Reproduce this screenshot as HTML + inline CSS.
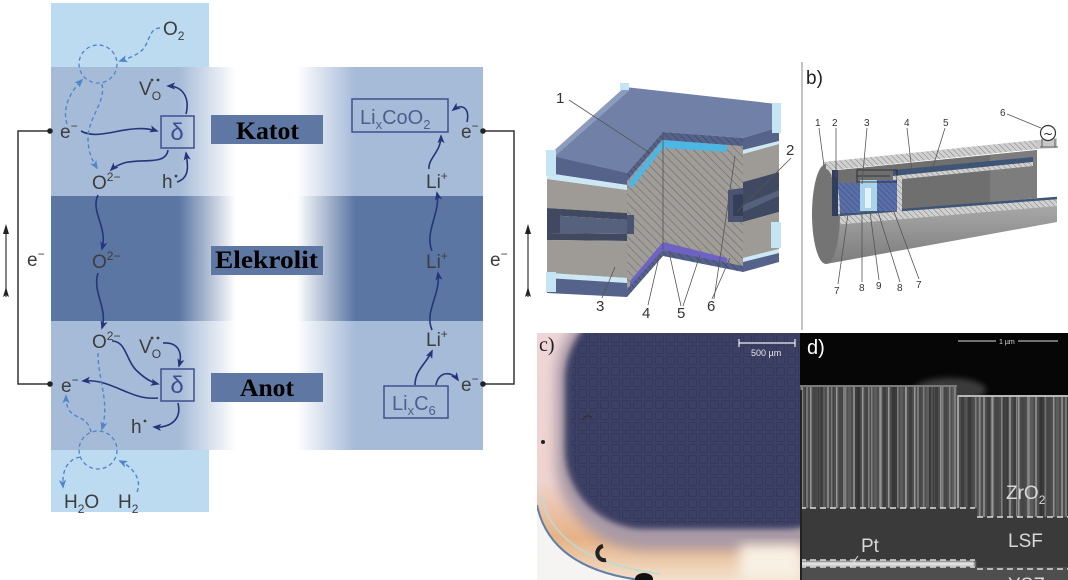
<!DOCTYPE html>
<html><head><meta charset="utf-8">
<style>
html,body{margin:0;padding:0;background:#fff;width:1068px;height:580px;overflow:hidden;}
svg{display:block;}
.t{font-family:"Liberation Sans",sans-serif;font-size:19px;fill:#3d3d3d;}
.s{stroke:#27347a;stroke-width:1.6;fill:none;marker-end:url(#ah);}
.d{stroke:#4f86c9;stroke-width:1.4;fill:none;stroke-dasharray:4 3;marker-end:url(#ahd);}
.lab{font-family:"Liberation Serif",serif;font-weight:bold;font-size:25px;fill:#000;}
.n{font-family:"Liberation Sans",sans-serif;font-size:15px;fill:#333;}
.m{font-family:"Liberation Sans",sans-serif;font-size:10px;fill:#333;}
.ln{stroke:#555;stroke-width:0.8;fill:none;}
</style></head><body>
<svg width="1068" height="580" viewBox="0 0 1068 580" xmlns="http://www.w3.org/2000/svg">
<defs>
 <linearGradient id="gk" gradientUnits="userSpaceOnUse" x1="51" y1="0" x2="483" y2="0">
  <stop offset="0" stop-color="#a6bbd8"/><stop offset="0.296" stop-color="#a6bbd8"/>
  <stop offset="0.428" stop-color="#ffffff"/><stop offset="0.569" stop-color="#ffffff"/>
  <stop offset="0.704" stop-color="#a6bbd8"/><stop offset="1" stop-color="#a6bbd8"/>
 </linearGradient>
 <linearGradient id="ge" gradientUnits="userSpaceOnUse" x1="51" y1="0" x2="483" y2="0">
  <stop offset="0" stop-color="#5b76a3"/><stop offset="0.296" stop-color="#5b76a3"/>
  <stop offset="0.428" stop-color="#ffffff"/><stop offset="0.569" stop-color="#ffffff"/>
  <stop offset="0.704" stop-color="#5b76a3"/><stop offset="1" stop-color="#5b76a3"/>
 </linearGradient>
 <marker id="ah" markerUnits="userSpaceOnUse" markerWidth="9" markerHeight="9" viewBox="0 0 10 10" refX="8" refY="5" orient="auto"><path d="M0,1 L10,5 L0,9 L2.5,5 z" fill="#27347a"/></marker>
 <marker id="ahd" markerUnits="userSpaceOnUse" markerWidth="9" markerHeight="9" viewBox="0 0 10 10" refX="8" refY="5" orient="auto"><path d="M0,1 L10,5 L0,9 L2.5,5 z" fill="#4f86c9"/></marker>
 <pattern id="hatch" width="6" height="6" patternUnits="userSpaceOnUse" patternTransform="rotate(-45)"><rect width="6" height="6" fill="#a09d99"/><line x1="0" y1="0" x2="0" y2="6" stroke="#6c6c6c" stroke-width="1.2"/></pattern>
 <pattern id="hatchd" width="5" height="5" patternUnits="userSpaceOnUse" patternTransform="rotate(-45)"><rect width="5" height="5" fill="#55628a"/><line x1="0" y1="0" x2="0" y2="5" stroke="#3a4566" stroke-width="1.2"/></pattern>
 <pattern id="hatchl" width="4" height="4" patternUnits="userSpaceOnUse" patternTransform="rotate(-45)"><rect width="4" height="4" fill="#d0d0d0"/><line x1="0" y1="0" x2="0" y2="4" stroke="#808080" stroke-width="1"/></pattern>
 <pattern id="hatchb" width="4" height="4" patternUnits="userSpaceOnUse" patternTransform="rotate(-45)"><rect width="4" height="4" fill="#5a6ea8"/><line x1="0" y1="0" x2="0" y2="4" stroke="#3b4b80" stroke-width="1"/></pattern>
 <pattern id="grid" width="11" height="11" patternUnits="userSpaceOnUse" x="566" y="333"><rect x="1.5" y="1.5" width="8" height="8" rx="1" fill="none" stroke="#2c2f50" stroke-width="1" opacity="0.5"/></pattern>
 <pattern id="cols" width="26" height="20" patternUnits="userSpaceOnUse" x="800" y="0">
  <rect width="26" height="20" fill="#4e4e4e"/>
  <rect x="1" width="2" height="20" fill="#858585"/>
  <rect x="5" width="3" height="20" fill="#3e3e3e"/>
  <rect x="10" width="1.5" height="20" fill="#959595"/>
  <rect x="13" width="4" height="20" fill="#464646"/>
  <rect x="19" width="1.5" height="20" fill="#7e7e7e"/>
  <rect x="22" width="3" height="20" fill="#5c5c5c"/>
 </pattern>
 <pattern id="cols2" width="37" height="20" patternUnits="userSpaceOnUse" x="803" y="0">
  <rect x="3" width="2" height="20" fill="#9a9a9a"/>
  <rect x="15" width="5" height="20" fill="#2e2e2e"/>
  <rect x="28" width="1.5" height="20" fill="#a0a0a0"/>
 </pattern>
 <linearGradient id="halo" x1="0" y1="0" x2="0" y2="1">
  <stop offset="0" stop-color="#eed6d8"/><stop offset="0.6" stop-color="#efd3cf"/><stop offset="0.83" stop-color="#e6b285"/><stop offset="1" stop-color="#f2e0cc"/>
 </linearGradient>
 <linearGradient id="cylb" x1="0" y1="0" x2="0" y2="1">
  <stop offset="0" stop-color="#a8a8a8"/><stop offset="1" stop-color="#7c7c7c"/>
 </linearGradient>
 <filter id="bl6" x="-20%" y="-20%" width="140%" height="140%"><feGaussianBlur stdDeviation="6"/></filter>
 <filter id="bl3" x="-20%" y="-20%" width="140%" height="140%"><feGaussianBlur stdDeviation="3"/></filter>
 <filter id="bl1"><feGaussianBlur stdDeviation="1"/></filter>
 <clipPath id="cc"><rect x="537" y="333" width="265" height="247"/></clipPath>
 <clipPath id="cd"><rect x="800" y="333" width="268" height="247"/></clipPath>
</defs>

<!-- ============ LEFT DIAGRAM ============ -->
<rect x="51" y="3" width="158" height="509" fill="#bcdaf0"/>
<rect x="51" y="67" width="432" height="129" fill="url(#gk)"/>
<rect x="51" y="196" width="432" height="125" fill="url(#ge)"/>
<rect x="51" y="321" width="432" height="129" fill="url(#gk)"/>

<rect x="211" y="115" width="112" height="29" fill="#5f78a3"/>
<rect x="211" y="246" width="112" height="29" fill="#5f78a3"/>
<rect x="211" y="373" width="112" height="29" fill="#5f78a3"/>
<text class="lab" x="236" y="139" textLength="63" lengthAdjust="spacingAndGlyphs">Katot</text>
<text class="lab" x="215" y="268" textLength="103" lengthAdjust="spacingAndGlyphs">Elekrolit</text>
<text class="lab" x="240" y="396" textLength="54" lengthAdjust="spacingAndGlyphs">Anot</text>

<!-- circuit -->
<path d="M50 131 H18 V384 H50" stroke="#333" stroke-width="1.5" fill="none"/>
<path d="M483 131 H514 V384 H483" stroke="#333" stroke-width="1.5" fill="none"/>
<circle cx="50" cy="131" r="2.8" fill="#222"/><circle cx="50" cy="384" r="2.8" fill="#222"/>
<circle cx="483" cy="131" r="2.8" fill="#222"/><circle cx="483" cy="384" r="2.8" fill="#222"/>
<line x1="6" y1="297" x2="6" y2="230" stroke="#333" stroke-width="1.2"/>
<path d="M6 224 L3 234 L9 234 Z" fill="#222"/><path d="M6 287 L3 297 L6 295 L9 297 Z" fill="#222"/>
<line x1="528" y1="297" x2="528" y2="230" stroke="#333" stroke-width="1.2"/>
<path d="M528 224 L525 234 L531 234 Z" fill="#222"/><path d="M528 287 L525 297 L528 295 L531 297 Z" fill="#222"/>
<text class="t" x="27" y="266">e<tspan font-size="12" dy="-8">−</tspan></text>
<text class="t" x="490" y="266">e<tspan font-size="12" dy="-8">−</tspan></text>

<!-- dashed circles -->
<circle cx="98" cy="64" r="19" fill="none" stroke="#4f86c9" stroke-width="1.3" stroke-dasharray="4 3"/>
<circle cx="98" cy="450" r="19" fill="none" stroke="#4f86c9" stroke-width="1.3" stroke-dasharray="4 3"/>

<!-- boxes -->
<rect x="161" y="116" width="33" height="32" fill="none" stroke="#3d4f8f" stroke-width="1.5"/>
<rect x="161" y="369" width="33" height="32" fill="none" stroke="#3d4f8f" stroke-width="1.5"/>
<rect x="352" y="99" width="96" height="33" fill="none" stroke="#3d4f8f" stroke-width="1.5"/>
<rect x="384" y="386" width="64" height="32" fill="none" stroke="#3d4f8f" stroke-width="1.5"/>
<text x="177" y="140" text-anchor="middle" font-family="Liberation Sans, sans-serif" font-size="24" fill="#3d4f8f">δ</text>
<text x="177" y="393" text-anchor="middle" font-family="Liberation Sans, sans-serif" font-size="24" fill="#3d4f8f">δ</text>
<text x="360" y="124" font-family="Liberation Sans, sans-serif" font-size="20" fill="#4d5f90">Li<tspan font-size="13" dy="5">x</tspan><tspan dy="-5">CoO</tspan><tspan font-size="13" dy="5">2</tspan></text>
<text x="392" y="410" font-family="Liberation Sans, sans-serif" font-size="20" fill="#4d5f90">Li<tspan font-size="13" dy="5">x</tspan><tspan dy="-5">C</tspan><tspan font-size="13" dy="5">6</tspan></text>

<!-- Katot texts -->
<text class="t" x="163" y="35">O<tspan font-size="12" dy="5">2</tspan></text>
<text class="t" x="139" y="95">V<tspan font-size="12" dy="5">O</tspan></text>
<circle cx="152" cy="80" r="1.4" fill="#3d3d3d"/><circle cx="158" cy="80" r="1.4" fill="#3d3d3d"/>
<text class="t" x="60" y="138">e<tspan font-size="12" dy="-8">−</tspan></text>
<text class="t" x="92" y="189">O<tspan font-size="12" dy="-8">2−</tspan></text>
<text class="t" x="162" y="188">h</text><circle cx="176" cy="176" r="1.4" fill="#3d3d3d"/>
<text class="t" x="461" y="138">e<tspan font-size="12" dy="-8">−</tspan></text>
<text class="t" x="426" y="188">Li<tspan font-size="12" dy="-8">+</tspan></text>
<!-- Electrolyte texts -->
<text class="t" x="92" y="268">O<tspan font-size="12" dy="-8">2−</tspan></text>
<text class="t" x="426" y="268">Li<tspan font-size="12" dy="-8">+</tspan></text>
<!-- Anot texts -->
<text class="t" x="92" y="348">O<tspan font-size="12" dy="-8">2−</tspan></text>
<text class="t" x="139" y="353">V<tspan font-size="12" dy="5">O</tspan></text>
<circle cx="152" cy="338" r="1.4" fill="#3d3d3d"/><circle cx="158" cy="338" r="1.4" fill="#3d3d3d"/>
<text class="t" x="61" y="392">e<tspan font-size="12" dy="-8">−</tspan></text>
<text class="t" x="131" y="433">h</text><circle cx="145" cy="421" r="1.4" fill="#3d3d3d"/>
<text class="t" x="64" y="508">H<tspan font-size="12" dy="5">2</tspan><tspan dy="-5">O</tspan></text>
<text class="t" x="118" y="508">H<tspan font-size="12" dy="5">2</tspan></text>
<text class="t" x="426" y="346">Li<tspan font-size="12" dy="-8">+</tspan></text>
<text class="t" x="461" y="391">e<tspan font-size="12" dy="-8">−</tspan></text>

<!-- connectors Katot -->
<path class="s" d="M81 131 C100 142 128 122 157 131"/>
<path class="s" d="M186 114 C190 98 183 86 168 86"/>
<path class="s" d="M168 150 C166 166 140 158 124 163 C118 165 114 167 111 170"/>
<path class="s" d="M177 182 C190 178 188 165 186 153"/>
<path class="s" d="M467 122 C470 108 462 103 453 110"/>
<path class="s" d="M429 169 C428 158 441 152 441 136"/>
<path class="d" d="M160 28 C148 28 150 45 140 52 C133 57 126 59 120 61"/>
<path class="d" d="M67 124 C62 108 70 92 82 80"/>
<path class="d" d="M102 84 C106 102 88 118 88 138 C88 152 92 160 97 168"/>
<!-- electrolyte -->
<path class="s" d="M98 195 C90 212 108 226 102 249"/>
<path class="s" d="M98 273 C92 292 108 308 102 328"/>
<path class="s" d="M432 330 C424 312 441 294 438 273"/>
<path class="s" d="M432 251 C424 232 441 212 437 193"/>
<!-- Anot -->
<path class="s" d="M112 341 C126 341 126 360 136 370 C143 377 150 382 158 384"/>
<path class="s" d="M163 343 C178 342 183 352 179 366"/>
<path class="s" d="M158 398 C130 401 112 378 83 381"/>
<path class="s" d="M178 403 C182 420 170 428 154 427"/>
<path class="s" d="M415 385 C415 370 426 364 432 351"/>
<path class="s" d="M436 385 C438 372 451 370 458 380"/>
<path class="d" d="M98 353 C98 380 110 402 102 429"/>
<path class="d" d="M91 432 C86 410 66 424 66 396"/>
<path class="d" d="M80 457 C66 460 62 472 63 487"/>
<path class="d" d="M137 492 C142 480 134 468 120 461"/>

<!-- ============ PANEL a ============ -->
<polygon points="547,157 625,87 777,104 779,127 743,138 663,132 627,173" fill="#7180a6"/>
<polygon points="547,157 625,87 630,90 553,158" fill="#8d9bbd"/>
<!-- left front face layers -->
<polygon points="547,155 627,173 627,185 547,173" fill="#55628a"/>
<polygon points="547,173 627,185 627,190 547,179" fill="#cde8f5"/>
<polygon points="547,179 627,190 627,213 547,208" fill="#9e9b96"/>
<polygon points="547,208 627,213 627,220 547,215" fill="#40495f"/>
<polygon points="547,215 627,220 627,234 547,233" fill="#56617e"/>
<polygon points="547,215 560,215 560,233 547,233" fill="#40495f"/>
<polygon points="547,233 627,234 627,241 547,240" fill="#40495f"/>
<polygon points="547,240 627,241 627,278 547,273" fill="#9e9b96"/>
<polygon points="547,273 627,278 627,283 547,278" fill="#cde8f5"/>
<polygon points="547,278 627,283 627,297 547,293" fill="#55628a"/>
<rect x="546" y="150" width="10" height="26" fill="#c5e4f4"/>
<rect x="546" y="272" width="10" height="20" fill="#c5e4f4"/>
<rect x="620" y="83" width="9" height="7" fill="#c5e4f4"/>
<!-- right face -->
<polygon points="743,138 779,127 779,141 743,150" fill="#55628a"/>
<polygon points="743,150 779,141 779,144 743,154" fill="#cde8f5"/>
<polygon points="743,154 779,144 779,172 743,182" fill="#9e9b96"/>
<polygon points="743,182 779,172 779,212 743,222" fill="#3f4962"/>
<polygon points="743,205 779,190 779,196 743,212" fill="#56617e"/>
<polygon points="743,222 779,212 779,249 743,258" fill="#9e9b96"/>
<polygon points="743,258 779,249 779,253 743,262" fill="#cde8f5"/>
<polygon points="743,262 779,253 779,262 743,272" fill="#55628a"/>
<rect x="772" y="103" width="9" height="30" fill="#c5e4f4"/>
<rect x="771" y="222" width="10" height="26" fill="#c5e4f4"/>
<!-- cut faces -->
<polygon points="627,173 663,132 663,248 627,297" fill="url(#hatch)"/>
<polygon points="663,132 743,138 743,272 663,248" fill="url(#hatch)"/>
<polygon points="627,173 663,132 663,139 627,181" fill="url(#hatchd)"/>
<polygon points="663,132 743,138 743,146 663,140" fill="url(#hatchd)"/>
<polygon points="629,182 663,140 663,148 631,189" fill="#4db6e3"/>
<polygon points="663,140 727,145 727,152 663,148" fill="#4db6e3"/>
<polygon points="630,281 663,242 663,250 630,289" fill="#6e62c4"/>
<polygon points="663,242 727,258 727,266 663,250" fill="#6e62c4"/>
<polygon points="627,289 663,250 663,256 627,297" fill="url(#hatchd)"/>
<polygon points="663,250 743,266 743,272 663,256" fill="url(#hatchd)"/>
<polygon points="728,190 743,188 743,222 728,222" fill="#4a5470"/>
<polygon points="733,195 743,194 743,216 733,216" fill="#363f58"/>
<polygon points="627,215 634,215 634,234 627,234" fill="#4a5470"/>
<line x1="663" y1="132" x2="663" y2="250" stroke="#555" stroke-width="0.8"/>
<!-- labels a -->
<text class="n" x="556" y="103">1</text>
<text class="n" x="786" y="155">2</text>
<text class="n" x="596" y="311">3</text>
<text class="n" x="642" y="318">4</text>
<text class="n" x="677" y="318">5</text>
<text class="n" x="707" y="311">6</text>
<line class="ln" x1="569" y1="100" x2="650" y2="153"/>
<line class="ln" x1="791" y1="158" x2="737" y2="212"/>
<line class="ln" x1="602" y1="298" x2="615" y2="267"/>
<line class="ln" x1="648" y1="305" x2="660" y2="253"/>
<line class="ln" x1="681" y1="306" x2="669" y2="252"/>
<line class="ln" x1="683" y1="306" x2="700" y2="255"/>
<line class="ln" x1="712" y1="299" x2="730" y2="258"/>
<line class="ln" x1="714" y1="299" x2="735" y2="156"/>

<!-- divider -->
<line x1="802" y1="62" x2="802" y2="330" stroke="#c4c4c4" stroke-width="2"/>

<!-- ============ PANEL b ============ -->
<text x="806" y="84" font-family="Liberation Sans, sans-serif" font-size="19" fill="#222">b)</text>
<polygon points="826,225 1057,205 1057,222 826,264" fill="url(#cylb)"/>
<polygon points="833,215 1057,197 1057,206 833,225" fill="url(#hatchl)"/>
<polygon points="838,170 1037,150 1037,198 838,216" fill="#6f6f6f"/>
<polygon points="990,155 1037,150 1037,198 990,202" fill="#7d7d7d"/>
<polygon points="823,162 1037,140 1037,149 823,171" fill="url(#hatchl)"/>
<polygon points="1037,140 1057,138 1057,148 1037,149" fill="#c8c8c8"/>
<polygon points="893,170 1033,157 1033,162 893,176" fill="#3f5575"/>
<polygon points="893,176 1033,162 1033,166 893,180" fill="url(#hatchl)"/>
<line x1="838" y1="215" x2="1057" y2="198" stroke="#3f5575" stroke-width="2.5"/>
<rect x="838" y="183" width="22" height="30" fill="url(#hatchb)"/>
<rect x="877" y="180" width="20" height="31" fill="url(#hatchb)"/>
<rect x="860" y="180" width="17" height="31" fill="#a9d4ea"/>
<rect x="865" y="188" width="6" height="20" fill="#e3f3fb"/>
<rect x="857" y="170" width="40" height="12" fill="none" stroke="#222" stroke-width="0.8"/>
<line x1="857" y1="176" x2="890" y2="176" stroke="#222" stroke-width="0.8"/>
<rect x="897" y="176" width="5" height="36" fill="url(#hatchl)"/>
<ellipse cx="826" cy="214" rx="14" ry="50" fill="#747474"/>
<path d="M826 164 A14 50 0 0 1 840 214 L836 214 A10 45 0 0 0 826 169 Z" fill="url(#hatchl)"/>
<rect x="832" y="170" width="6" height="46" fill="#2f3e5c"/>
<circle cx="1048" cy="133" r="7.5" fill="#fff" stroke="#333" stroke-width="1.2"/>
<text x="1048" y="138" text-anchor="middle" font-family="DejaVu Sans, sans-serif" font-size="12" fill="#222">~</text>
<path d="M1042 139 V147 M1055 139 V147 M1040 147 H1058" stroke="#444" stroke-width="0.8" fill="none"/>
<text class="m" x="1000" y="116">6</text>
<line class="ln" x1="1007" y1="114" x2="1041" y2="128"/>
<text class="m" x="815" y="126">1</text>
<text class="m" x="832" y="126">2</text>
<text class="m" x="864" y="126">3</text>
<text class="m" x="904" y="126">4</text>
<text class="m" x="943" y="126">5</text>
<line class="ln" x1="819" y1="128" x2="824" y2="166"/>
<line class="ln" x1="836" y1="128" x2="836" y2="178"/>
<line class="ln" x1="867" y1="128" x2="862" y2="184"/>
<line class="ln" x1="907" y1="128" x2="912" y2="172"/>
<line class="ln" x1="945" y1="128" x2="932" y2="170"/>
<text class="m" x="834" y="294">7</text>
<text class="m" x="859" y="291">8</text>
<text class="m" x="876" y="289">9</text>
<text class="m" x="897" y="291">8</text>
<text class="m" x="916" y="288">7</text>
<line class="ln" x1="838" y1="284" x2="848" y2="214"/>
<line class="ln" x1="862" y1="282" x2="862" y2="212"/>
<line class="ln" x1="879" y1="280" x2="870" y2="212"/>
<line class="ln" x1="900" y1="282" x2="878" y2="212"/>
<line class="ln" x1="919" y1="279" x2="894" y2="212"/>

<!-- ============ PANEL c ============ -->
<g clip-path="url(#cc)">
 <rect x="537" y="333" width="265" height="247" fill="url(#halo)"/>
 <rect x="556" y="290" width="320" height="260" rx="90" fill="#a99aa6" filter="url(#bl6)"/>
 <rect x="565" y="300" width="300" height="229" rx="80" fill="#3e4165" filter="url(#bl3)"/>
 <rect x="572" y="300" width="300" height="224" rx="76" fill="url(#grid)"/>
 <path d="M537 505 Q550 568 640 580 L537 580 Z" fill="#f6f4f2"/>
 <path d="M537 505 Q550 568 640 580" fill="none" stroke="#5f7fa6" stroke-width="2"/>
 <path d="M541 496 Q555 560 660 574" fill="none" stroke="#b9dcd4" stroke-width="1.5"/>
 <rect x="740" y="545" width="62" height="35" fill="#f8f0e4" filter="url(#bl6)"/>
 <path d="M603 546 A7 7 0 1 0 606 560" fill="none" stroke="#222" stroke-width="4"/>
 <ellipse cx="644" cy="579" rx="9" ry="6" fill="#111"/>
 <circle cx="543" cy="442" r="2" fill="#222"/>
 <path d="M583 420 A5 5 0 0 1 592 418" fill="none" stroke="#333" stroke-width="1.5"/>
 <line x1="739" y1="343" x2="795" y2="343" stroke="#eee" stroke-width="1.2"/>
 <line x1="739" y1="339" x2="739" y2="347" stroke="#eee" stroke-width="1.2"/>
 <line x1="795" y1="339" x2="795" y2="347" stroke="#eee" stroke-width="1.2"/>
 <text x="751" y="356" font-family="Liberation Sans, sans-serif" font-size="9" fill="#e8e8e8">500 µm</text>
 <text x="539" y="351" font-family="Liberation Serif, serif" font-size="20" fill="#222">c)</text>
</g>

<!-- ============ PANEL d ============ -->
<g clip-path="url(#cd)">
 <rect x="800" y="333" width="268" height="247" fill="#060606"/>
 <ellipse cx="950" cy="390" rx="36" ry="12" fill="#3a3a3a" filter="url(#bl3)"/>
 <path d="M800 385 H957 V395 H1068 V517 H977 V508 H800 Z" fill="url(#cols)"/>
 <path d="M800 385 H957 V395 H1068 V517 H977 V508 H800 Z" fill="url(#cols2)" opacity="0.6"/>
 <path d="M800 386 H957" fill="none" stroke="#7a7a7a" stroke-width="2"/>
 <path d="M958 396 H1068" fill="none" stroke="#b8b8b8" stroke-width="2"/>
 <line x1="958" y1="396" x2="958" y2="508" stroke="#a0a0a0" stroke-width="2"/>
 <rect x="800" y="508" width="177" height="53" fill="#3a3a3a"/>
 <rect x="975" y="517" width="93" height="52" fill="#3a3a3a"/>
 <rect x="800" y="561" width="175" height="6" fill="#e0e0e0" filter="url(#bl1)"/>
 <rect x="800" y="567" width="268" height="13" fill="#4e4e4e"/>
 <rect x="975" y="569" width="93" height="11" fill="#4e4e4e"/>
 <g stroke="#dcdcdc" stroke-width="1.4" stroke-dasharray="6 4" fill="none">
  <line x1="800" y1="508" x2="975" y2="508"/>
  <line x1="977" y1="517" x2="1068" y2="517"/>
  <line x1="800" y1="560" x2="975" y2="560"/>
  <line x1="800" y1="567" x2="975" y2="567"/>
  <line x1="977" y1="569" x2="1068" y2="569"/>
 </g>
 <line x1="958" y1="341" x2="1058" y2="341" stroke="#ddd" stroke-width="1"/>
 <rect x="996" y="336" width="22" height="10" fill="#060606"/>
 <text x="999" y="344" font-family="Liberation Sans, sans-serif" font-size="7" fill="#ddd">1 µm</text>
 <text x="807" y="354" font-family="Liberation Sans, sans-serif" font-size="20" fill="#fff">d)</text>
 <text x="1006" y="499" font-family="Liberation Sans, sans-serif" font-size="19" fill="#d8d8d8">ZrO<tspan font-size="12" dy="5">2</tspan></text>
 <text x="1008" y="547" font-family="Liberation Sans, sans-serif" font-size="19" fill="#d8d8d8">LSF</text>
 <text x="861" y="552" font-family="Liberation Sans, sans-serif" font-size="19" fill="#d8d8d8">Pt</text>
 <line x1="858" y1="556" x2="850" y2="567" stroke="#ddd" stroke-width="1"/>
 <text x="1008" y="591" font-family="Liberation Sans, sans-serif" font-size="19" fill="#d8d8d8">YSZ</text>
</g>
<line x1="801" y1="390" x2="801" y2="580" stroke="#222" stroke-width="2"/>
</svg>
</body></html>
